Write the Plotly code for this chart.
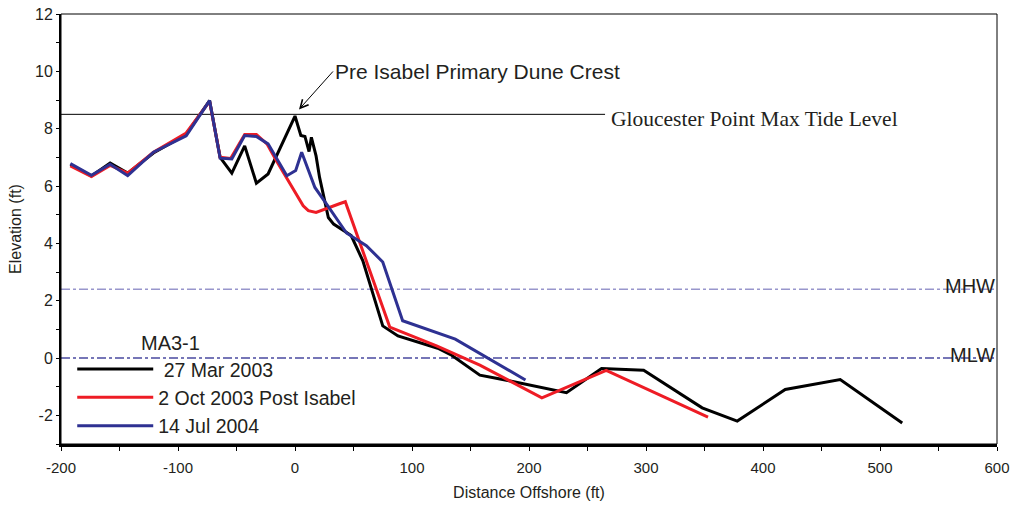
import plotly.graph_objects as go

# ---------------- data ----------------
mar2003_x = [-192, -174, -158, -143, -121, -93, -73, -64, -54, -43, -33, -23, 0, 5, 8.5, 12, 14, 18, 21,
             28.5, 33, 44, 48, 58, 75, 88, 122, 133, 158, 184, 232, 262, 298, 348, 378, 419, 466, 519]
mar2003_y = [6.75, 6.35, 6.8, 6.45, 7.15, 7.8, 8.98, 7.0, 6.45, 7.4, 6.1, 6.42, 8.44, 7.76, 7.73, 7.2, 7.7, 7.05, 6.3,
             4.9, 4.67, 4.38, 4.27, 3.39, 1.12, 0.77, 0.34, 0.12, -0.6, -0.8, -1.21, -0.37, -0.43, -1.74, -2.2, -1.1, -0.75, -2.27]

oct2003_x = [-192, -174, -158, -143, -121, -93, -73, -64, -55, -43, -33, -24, -16, -4, 1.4, 7, 11.4, 18, 38, 43,
             81, 121, 158, 211, 266, 353]
oct2003_y = [6.7, 6.33, 6.72, 6.45, 7.18, 7.85, 8.95, 7.0, 6.96, 7.8, 7.8, 7.47, 6.89, 6.07, 5.66, 5.31, 5.14, 5.08, 5.38, 5.45,
             1.08, 0.42, -0.25, -1.39, -0.43, -2.06]

jul2004_x = [-192, -174, -158, -143, -121, -93, -73, -64, -54, -43, -33, -23, -7, 0.6, 5.7, 17, 27, 44, 61, 75,
             92, 137, 197]
jul2004_y = [6.78, 6.37, 6.76, 6.36, 7.18, 7.75, 8.98, 6.97, 6.94, 7.76, 7.73, 7.47, 6.36, 6.54, 7.18, 5.95, 5.37, 4.36, 3.92, 3.35,
             1.3, 0.66, -0.77]

series_names = ["\u00a027 Mar 2003", "2 Oct 2003 Post Isabel", "14 Jul 2004"]
series_colors = ["#000000", "#ee1c25", "#2e3192"]

tide_level = 8.5
tide_x = [-200, 265]
mhw_level = 2.4
mlw_level = 0.0
x_range = [-200, 600]
y_range = [-3, 12]
x_tick_labels = [-200, -100, 0, 100, 200, 300, 400, 500, 600]
y_tick_labels = [-2, 0, 2, 4, 6, 8, 10, 12]
crest_x, crest_y = 3.4, 8.67

FONT = "Liberation Sans, Arial, sans-serif"
TXT = "#231f20"

fig = go.Figure()

# reference levels
fig.add_trace(go.Scatter(x=x_range, y=[mhw_level, mhw_level], mode="lines", showlegend=False,
                         line=dict(color="#9896cc", width=1.5, dash="dashdot"), hoverinfo="skip"))
fig.add_trace(go.Scatter(x=x_range, y=[mlw_level, mlw_level], mode="lines", showlegend=False,
                         line=dict(color="#4a4aa0", width=1.5, dash="dashdot"), hoverinfo="skip"))
fig.add_trace(go.Scatter(x=tide_x, y=[tide_level, tide_level], mode="lines", showlegend=False,
                         line=dict(color="#000000", width=1), hoverinfo="skip"))

for i, (xs, ys) in enumerate([(mar2003_x, mar2003_y), (oct2003_x, oct2003_y), (jul2004_x, jul2004_y)]):
    fig.add_trace(go.Scatter(x=xs, y=ys, mode="lines", name=series_names[i], legendgroup=f"g{i}",
                             line=dict(color=series_colors[i], width=3)))

fig.update_layout(
    width=1014, height=512,
    margin=dict(l=61, r=17, t=14, b=68, autoexpand=False),
    paper_bgcolor="white", plot_bgcolor="white",
    font=dict(family=FONT, color=TXT, size=16),
    showlegend=True,
    legend=dict(x=0.012, y=0.219, xanchor="left", yanchor="top", bgcolor="rgba(0,0,0,0)",
                font=dict(family=FONT, size=19.5, color=TXT), tracegroupgap=0, itemwidth=76),
    xaxis=dict(range=x_range, tickvals=x_tick_labels, ticktext=[str(v) for v in x_tick_labels],
               ticks="outside", ticklen=4, tickwidth=1, tickcolor="black",
               minor=dict(dtick=50, ticks="outside", ticklen=4, tickwidth=1, tickcolor="black"),
               showline=True, linewidth=3, linecolor="black", showgrid=False, zeroline=False, automargin=False,
               ticklabeloverflow="allow",
               tickfont=dict(size=15, family=FONT, color=TXT), ticklabelstandoff=4,
               title=dict(text="Distance Offshore (ft)", font=dict(size=16, family=FONT, color=TXT), standoff=12)),
    yaxis=dict(range=y_range, tickvals=y_tick_labels, ticktext=[str(v) for v in y_tick_labels],
               ticks="outside", ticklen=3, tickwidth=1, tickcolor="black",
               minor=dict(dtick=1, ticks="outside", ticklen=3, tickwidth=1, tickcolor="black"),
               showline=True, linewidth=2, linecolor="black", showgrid=False, zeroline=False, automargin=False,
               ticklabeloverflow="allow",
               tickfont=dict(size=16, family=FONT, color=TXT), ticklabelstandoff=0,
               title=dict(text="Elevation (ft)", font=dict(size=16, family=FONT, color=TXT), standoff=9)),
    xaxis2=dict(range=x_range, overlaying="x", anchor="y", side="bottom", dtick=50, tick0=0, ticks="inside",
                ticklen=4, tickwidth=1, tickcolor="black", showticklabels=False, showgrid=False,
                zeroline=False, showline=False, automargin=False),
    yaxis2=dict(range=y_range, overlaying="y", anchor="x", side="left", dtick=1, tick0=0, ticks="inside",
                ticklen=3, tickwidth=1, tickcolor="black", showticklabels=False, showgrid=False,
                zeroline=False, showline=False, automargin=False),
)

# frame (top & right)
fig.add_shape(type="rect", xref="paper", yref="paper", x0=0, x1=1, y0=0, y1=1,
              line=dict(color="black", width=1), layer="above")

fig.add_annotation(x=crest_x, y=crest_y, xref="x", yref="y", text="Pre Isabel Primary Dune Crest",
                   showarrow=True, ax=34, ay=-38, xanchor="left", yanchor="middle",
                   arrowhead=5, arrowsize=1.6, arrowwidth=1, arrowcolor="black",
                   font=dict(family=FONT, size=21, color=TXT))
fig.add_annotation(x=tide_x[1], y=tide_level, xref="x", yref="y", text="Gloucester Point Max Tide Level",
                   showarrow=False, xanchor="left", yanchor="middle", xshift=4, yshift=-5,
                   font=dict(family="Liberation Serif, Times New Roman, serif", size=21.5, color=TXT))
fig.add_annotation(x=x_range[1], y=mhw_level, xref="x", yref="y", text="MHW", showarrow=False,
                   xanchor="right", yanchor="middle", xshift=0, yshift=3,
                   font=dict(family=FONT, size=20, color=TXT))
fig.add_annotation(x=x_range[1], y=mlw_level, xref="x", yref="y", text="MLW", showarrow=False,
                   xanchor="right", yanchor="middle", xshift=0, yshift=3,
                   font=dict(family=FONT, size=20, color=TXT))
fig.add_annotation(x=-133, y=0.54, xref="x", yref="y", text="MA3-1", showarrow=False,
                   xanchor="left", yanchor="middle", font=dict(family=FONT, size=20, color=TXT))

fig.write_html("out.html", config={"displayModeBar": False},
               post_script="document.body.style.margin='0';")
